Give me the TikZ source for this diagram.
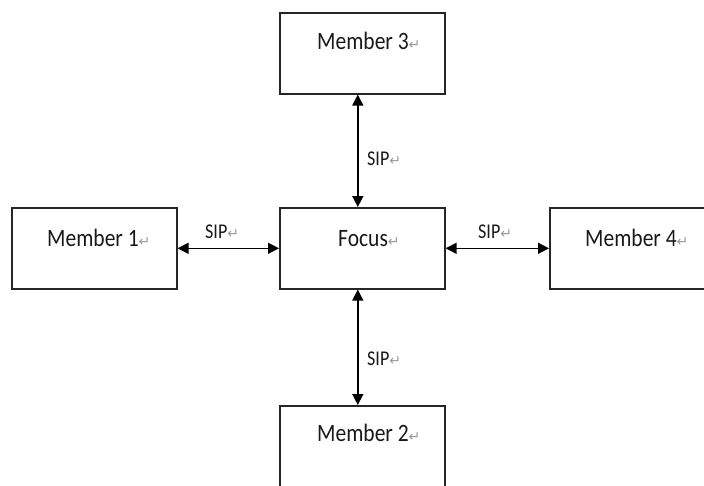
\documentclass[tikz,border=0pt]{standalone}
\usepackage{fontspec}
\setmainfont{Carlito}[FakeStretch=0.86]
\newfontfamily\symfont{DejaVu Sans}
\usetikzlibrary{arrows.meta}
\newcommand{\pmark}{{\color{black!40}\symfont\fontsize{14}{14}\selectfont ↵}}
\tikzset{
  box/.style={draw=black!85, line width=1.6pt, fill=white, minimum width=165pt, minimum height=81pt, inner sep=0pt, anchor=north west},
  lbl/.style={anchor=base west, inner sep=0pt, text=black!90, font=\fontsize{25}{28}\selectfont},
  sip/.style={anchor=base west, inner sep=0pt, text=black!90, font=\fontsize{21}{24}\selectfont},
  link/.style={line width=1.5pt, {Triangle[length=11pt,width=11pt]}-{Triangle[length=11pt,width=11pt]}}
}
\begin{document}
\begin{tikzpicture}[x=1pt,y=-1pt]
\clip (0,0) rectangle (704,485);
\fill[white] (0,0) rectangle (704,485);
\node[box] (m3) at (279,12) {};
\node[box] (focus) at (279,207) {};
\node[box] (m1) at (11,207) {};
\node[box] (m4) at (549,207) {};
\node[box, minimum height=90pt] (m2) at (279,405) {};

\node[lbl] (t3) at (317,49) {Member 3\pmark};
\node[lbl] (t1) at (47,246) {Member 1\pmark};
\node[lbl] (tf) at (338,246) {Focus\pmark};
\node[lbl] (t4) at (585,246) {Member 4\pmark};
\node[lbl] (t2) at (317,441) {Member 2\pmark};

\draw[link] ([xshift=-4.5pt]m3.south) -- ([xshift=-4.5pt]focus.north);
\draw[link] ([xshift=-4.5pt]focus.south) -- ([xshift=-4.5pt]m2.north);
\draw[link] (m1.east) -- (focus.west);
\draw[link] (focus.east) -- (m4.west);

\node[sip] (s3) at (367,165) {SIP\pmark};
\node[sip] (s2) at (367,365) {SIP\pmark};
\node[sip] (s1) at (205,238) {SIP\pmark};
\node[sip] (s4) at (478,238) {SIP\pmark};
\end{tikzpicture}
\end{document}
